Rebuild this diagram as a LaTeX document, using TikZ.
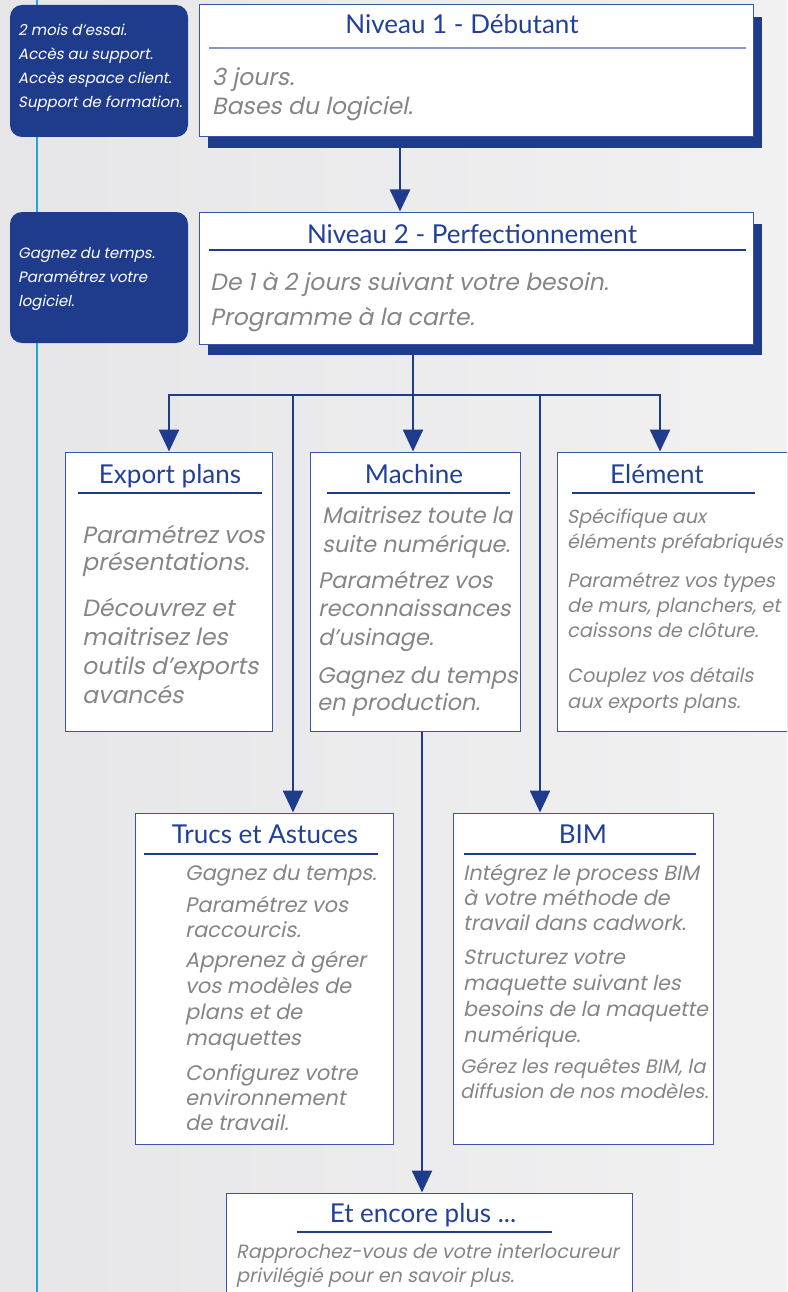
\documentclass[tikz,border=0pt]{standalone}
\usepackage{fontspec}
\setmainfont{Poppins}
\newfontfamily\pit{Poppins}[FakeSlant=0.2]
\newfontfamily\lato{Lato}
\usetikzlibrary{arrows.meta}
\definecolor{dblue}{HTML}{1F3C8C}
\definecolor{tblue}{HTML}{22409A}
\definecolor{bord}{HTML}{3A55A5}
\definecolor{lrule}{HTML}{8597C8}
\definecolor{gtext}{HTML}{858585}
\definecolor{cyanl}{HTML}{1FA6E0}
\definecolor{bgl}{HTML}{E6E6E8}
\definecolor{bgr}{HTML}{F1F1F2}
\tikzset{
  box/.style={draw=bord, line width=1pt, fill=white, rectangle, inner sep=0pt},
  shadowbox/.style={fill=dblue, draw=none, rectangle, inner sep=0pt},
  sidebox/.style={fill=dblue, draw=none, rectangle, rounded corners=12pt, inner sep=0pt},
  ttl/.style={font=\lato\fontsize{26}{30}\selectfont, text=tblue, anchor=base, inner sep=0pt},
  titlerule/.style={draw=dblue, line width=1.1pt},
  body/.style={text=gtext, align=left, anchor=base west, inner sep=0pt},
  sidetext/.style={text=white, align=left, anchor=base west, inner sep=0pt,
    font=\pit\fontsize{15}{24}\selectfont},
  arr/.style={draw=dblue, line width=2.5pt, -{Triangle[width=20pt,length=22pt]}},
  ln/.style={draw=dblue, line width=2.5pt}
}
\begin{document}
\begin{tikzpicture}[x=1pt,y=-1pt]
\useasboundingbox (0,0) rectangle (787,1292);
\clip (0,0) rectangle (787,1292);
\shade[left color=bgl, right color=bgr] (0,0) rectangle (787,1292);
\draw[cyanl, line width=2.5pt] (37,0) -- (37,1292);

% side boxes
\node[sidebox, minimum width=178pt, minimum height=132pt] (s1) at (99,71) {};
\node[sidetext] (s1t) at (18,108) {2 mois d’essai.\\Accès au support.\\Accès espace client.\\Support de formation.};
\node[sidebox, minimum width=178pt, minimum height=131pt] (s2) at (99,277.5) {};
\node[sidetext] (s2t) at (18,306) {Gagnez du temps.\\Paramétrez votre\\logiciel.};

% Niveau 1
\node[shadowbox, minimum width=554pt, minimum height=131pt] (n1s) at (485,82.5) {};
\node[box, minimum width=554pt, minimum height=132pt] (n1) at (476,71) {};
\node[ttl] (n1t) at (462,34) {Niveau 1 - Débutant};
\draw[draw=lrule, line width=1.2pt] (209,48) -- (746,48);
\node[body, font=\pit\fontsize{23.5}{29}\selectfont] (n1b) at (212,115) {3 jours.\\Bases du logiciel.};

% Niveau 2
\node[shadowbox, minimum width=554pt, minimum height=131pt] (n2s) at (485,289.5) {};
\node[box, minimum width=554pt, minimum height=132pt] (n2) at (476,278) {};
\node[ttl] (n2t) at (472,243) {Niveau 2 - Perfectionnement};
\draw[titlerule] (209,250) -- (746,250);
\node[body, font=\pit\fontsize{23.5}{35}\selectfont] (n2b) at (210,325) {De 1 à 2 jours suivant votre besoin.\\Programme à la carte.};

% Export plans
\node[box, minimum width=207pt, minimum height=279pt] (ep) at (168.5,591.5) {};
\node[ttl] (ept) at (170,483) {Export plans};
\draw[titlerule] (78,493) -- (262,493);
\node[body, font=\pit\fontsize{23.5}{27}\selectfont] (epb1) at (82,570) {Paramétrez vos\\présentations.};
\node[body, font=\pit\fontsize{23.5}{28.7}\selectfont] (epb2) at (82,703) {Découvrez et\\maitrisez les\\outils d’exports\\avancés};

% Machine
\node[box, minimum width=210pt, minimum height=279pt] (ma) at (415,591.5) {};
\node[ttl] (mat) at (414,483) {Machine};
\draw[titlerule] (327,493) -- (510,493);
\node[body, font=\pit\fontsize{22.5}{29}\selectfont] (mab1) at (322,552) {Maitrisez toute la\\suite numérique.};
\node[body, font=\pit\fontsize{22.5}{28.5}\selectfont] (mab2) at (318,645) {Paramétrez vos\\reconnaissances\\d’usinage.};
\node[body, font=\pit\fontsize{22.5}{27}\selectfont] (mab3) at (317,710) {Gagnez du temps\\en production.};

% Element
\node[box, minimum width=230pt, minimum height=279pt] (el) at (672,591.5) {};
\node[ttl] (elt) at (657,483) {Elément};
\draw[titlerule] (572,493) -- (755,493);
\node[body, font=\pit\fontsize{19}{25}\selectfont] (elb1) at (567,548) {Spécifique aux\\éléments préfabriqués};
\node[body, font=\pit\fontsize{19.3}{25}\selectfont] (elb2) at (567,637) {Paramétrez vos types\\de murs, planchers, et\\caissons de clôture.};
\node[body, font=\pit\fontsize{19.3}{26}\selectfont] (elb3) at (567,708) {Couplez vos détails\\aux exports plans.};

% Trucs et Astuces
\node[box, minimum width=258pt, minimum height=331pt] (tr) at (264,978.5) {};
\node[ttl] (trt) at (265,843) {Trucs et Astuces};
\draw[titlerule] (144,854) -- (378,854);
\node[body, font=\pit\fontsize{21}{25}\selectfont] (trb1) at (185,880) {Gagnez du temps.};
\node[body, font=\pit\fontsize{21}{25}\selectfont] (trb2) at (185,937) {Paramétrez vos\\raccourcis.};
\node[body, font=\pit\fontsize{21}{25.7}\selectfont] (trb3) at (185,1045) {Apprenez à gérer\\vos modèles de\\plans et de\\maquettes};
\node[body, font=\pit\fontsize{21}{25}\selectfont] (trb4) at (185,1130) {Configurez votre\\environnement\\de travail.};

% BIM
\node[box, minimum width=260pt, minimum height=331pt] (bim) at (583,978.5) {};
\node[ttl] (bimt) at (583,843) {BIM};
\draw[titlerule] (464,854) -- (696,854);
\node[body, font=\pit\fontsize{20.8}{25}\selectfont] (bimb1) at (463,930) {Intégrez le process BIM\\à votre méthode de\\travail dans cadwork.};
\node[body, font=\pit\fontsize{20.6}{25.7}\selectfont] (bimb2) at (463,1042) {Structurez votre\\maquette suivant les\\besoins de la maquette\\numérique.};
\node[body, font=\pit\fontsize{19.5}{25}\selectfont] (bimb3) at (460,1098) {Gérez les requêtes BIM, la\\diffusion de nos modèles.};

% Et encore plus
\node[box, minimum width=406pt, minimum height=117pt] (ec) at (429,1251.5) {};
\node[ttl] (ect) at (423,1222) {Et encore plus ...};
\draw[titlerule] (297,1232) -- (552,1232);
\node[body, font=\pit\fontsize{19.2}{24}\selectfont] (ecb) at (236,1282) {Rapprochez-vous de votre interlocureur\\privilégié pour en savoir plus.};

% connectors
\coordinate (c1) at (400,0);
\draw[arr] (n1s.south -| c1) -- (n2.north -| c1);
\coordinate (j) at (413,395);
\coordinate (xl) at (169,0);
\coordinate (xr) at (660,0);
\coordinate (xt) at (293,0);
\coordinate (xb) at (540,0);
\coordinate (xm) at (422,0);
\draw[ln] (n2s.south -| j) -- (j);
\draw[arr] (j) -| (ep.north -| xl);
\draw[arr] (j) -| (el.north -| xr);
\draw[arr] (j) -- (ma.north -| j);
\draw[arr] (j -| xt) -- (tr.north -| xt);
\draw[arr] (j -| xb) -- (bim.north -| xb);
\draw[arr] (ma.south -| xm) -- (ec.north -| xm);
\end{tikzpicture}
\end{document}
